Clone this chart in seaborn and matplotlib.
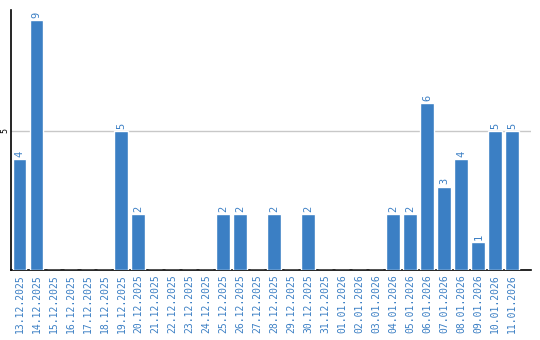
import matplotlib
matplotlib.use("Agg")
import matplotlib.pyplot as plt
import seaborn as sns
import pandas as pd

dates = ["13.12.2025", "14.12.2025", "15.12.2025", "16.12.2025", "17.12.2025",
         "18.12.2025", "19.12.2025", "20.12.2025", "21.12.2025", "22.12.2025",
         "23.12.2025", "24.12.2025", "25.12.2025", "26.12.2025", "27.12.2025",
         "28.12.2025", "29.12.2025", "30.12.2025", "31.12.2025", "01.01.2026",
         "02.01.2026", "03.01.2026", "04.01.2026", "05.01.2026", "06.01.2026",
         "07.01.2026", "08.01.2026", "09.01.2026", "10.01.2026", "11.01.2026"]
values = [4, 9, 0, 0, 0, 0, 5, 2, 0, 0,
          0, 0, 2, 2, 0, 2, 0, 2, 0, 0,
          0, 0, 2, 2, 6, 3, 4, 1, 5, 5]
y_ticks = [5]

BLUE = "#3b7fc4"
sns.set_theme(style="white")
plt.rcParams['font.family'] = ['DejaVu Sans Mono', 'DejaVu Sans']

df = pd.DataFrame({"date": dates, "value": values})

fig = plt.figure(figsize=(5.4, 3.4), dpi=100)
ax = fig.add_axes([11/540, 70/340, 520/540, 260/340])
sns.barplot(data=df, x="date", y="value", color=BLUE, saturation=1,
            width=0.82, ax=ax, zorder=3)

for i, v in enumerate(values):
    if v > 0:
        ax.text(i, v + 0.08, str(v), rotation=90, ha="center", va="bottom",
                color=BLUE, fontsize=7.5)

ax.set_xlim(-0.5, 30.1)
ax.set_ylim(0, 9.35)
ax.set_yticks(y_ticks)
ax.set_yticklabels([str(t) for t in y_ticks], rotation=90, va="center", fontsize=6)
ax.yaxis.grid(True, color="#c8c8c8", linewidth=1, zorder=0)
ax.set_axisbelow(True)
ax.tick_params(axis="y", length=0, pad=1, colors="black")
ax.tick_params(axis="x", length=0, pad=3, labelcolor=BLUE, labelsize=7)
plt.setp(ax.get_xticklabels(), rotation=90)
ax.set_xlabel("")
ax.set_ylabel("")
for s in ["top", "right"]:
    ax.spines[s].set_visible(False)
for s in ["left", "bottom"]:
    ax.spines[s].set_color("black")
    ax.spines[s].set_linewidth(1.2)

fig.savefig("out.png", dpi=100)
